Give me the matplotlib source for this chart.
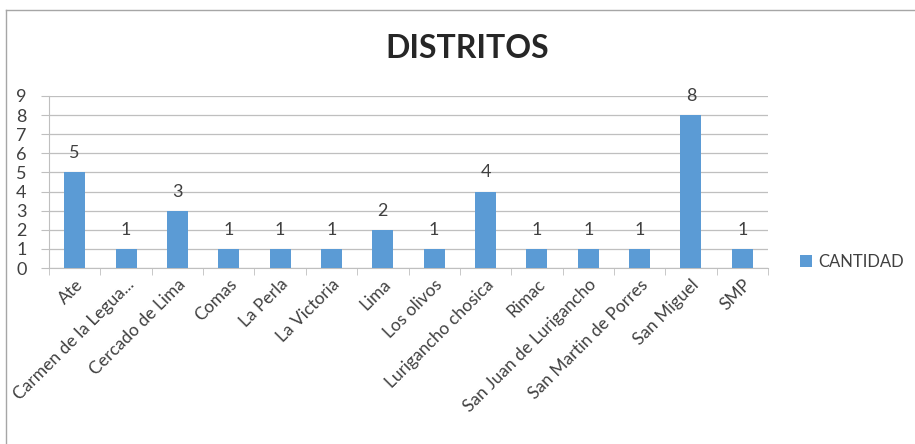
import matplotlib.pyplot as plt
from matplotlib.lines import Line2D

distritos = ['Ate', 'Carmen de la Legua...', 'Cercado de Lima', 'Comas', 'La Perla',
             'La Victoria', 'Lima', 'Los olivos', 'Lurigancho chosica', 'Rimac',
             'San Juan de Lurigancho', 'San Martin de Porres', 'San Miguel', 'SMP']
cantidad = [5, 1, 3, 1, 1, 1, 2, 1, 4, 1, 1, 1, 8, 1]

plt.rcParams['font.family'] = ['Lato', 'DejaVu Sans']
txt = '#404040'
azul = '#5B9BD5'

fig = plt.figure(figsize=(9.15, 4.44), dpi=100)
ax = fig.add_axes([49/915, 1-268/444, (768-49)/915, (268-96)/444])

x = list(range(len(distritos)))
bars = ax.bar(x, cantidad, width=0.41, color=azul, label='CANTIDAD', zorder=3)
for xi, v in zip(x, cantidad):
    ax.annotate(str(v), (xi, v), xytext=(0, 8), textcoords='offset points',
                ha='center', va='bottom', fontsize=13, color=txt)

ax.set_xlim(-0.5, len(distritos) - 0.5)
ax.set_ylim(0, 9)
ax.set_yticks(range(10))
ax.yaxis.grid(True, color='#BFBFBF', linewidth=0.9, zorder=0)
ax.set_xticks(x)
ax.set_xticklabels(distritos, rotation=45, ha='right', rotation_mode='anchor',
                   fontsize=12.5, color=txt)
ax.set_xticks([i + 0.5 for i in range(-1, len(distritos))], minor=True)
ax.tick_params(axis='x', which='major', length=0, pad=6)
ax.tick_params(axis='x', which='minor', length=5, color='#BFBFBF')
ax.tick_params(axis='y', length=6, color='#BFBFBF', labelsize=13, labelcolor=txt, pad=14)
for lbl in ax.get_yticklabels():
    lbl.set_horizontalalignment('center')
for s in ['top', 'right']:
    ax.spines[s].set_visible(False)
ax.spines['left'].set_color('#BFBFBF')
ax.spines['bottom'].set_color('#BFBFBF')

fig.text(467/915, 1-48/444, 'DISTRITOS', ha='center', va='center',
         fontsize=23, fontweight='bold', color='#262626')

fig.legend(handles=[bars], labels=['CANTIDAD'], loc='center left',
           bbox_to_anchor=(800/915, 1-262/444), frameon=False,
           borderaxespad=0, borderpad=0,
           fontsize=12, handlelength=0.7, handleheight=0.7, handletextpad=0.4,
           labelcolor=txt)

# chart border (only top and left edges visible in the reference)
fig.add_artist(Line2D([6/915, 6/915], [0, 1-10/444], transform=fig.transFigure,
                      color='#A6A6A6', linewidth=1))
fig.add_artist(Line2D([6/915, 1], [1-10/444, 1-10/444], transform=fig.transFigure,
                      color='#A6A6A6', linewidth=1))

fig.savefig('out.png', dpi=100)
